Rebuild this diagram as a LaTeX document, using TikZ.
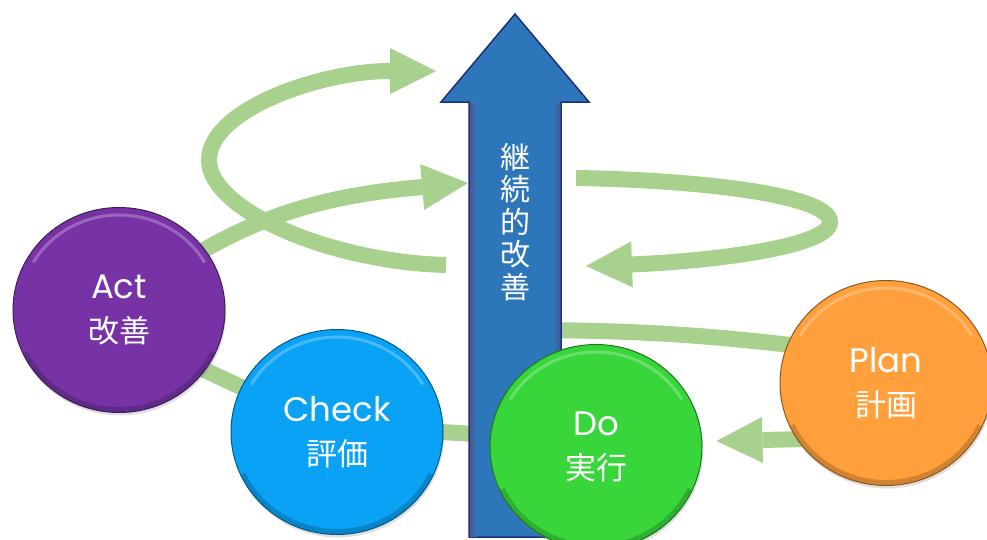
\documentclass[tikz,border=0pt]{standalone}
\usepackage{fontspec}
\setmainfont{Poppins}
\newfontfamily\jp{Noto Sans CJK JP}
\usetikzlibrary{arrows.meta,shapes.geometric,shadows,backgrounds}
\definecolor{band}{HTML}{A9D18E}
\definecolor{actc}{HTML}{7733A6}
\definecolor{checkc}{HTML}{0AA2F5}
\definecolor{doc}{HTML}{38D63A}
\definecolor{planc}{HTML}{FFA03C}
\definecolor{risec}{HTML}{2E76BA}
\definecolor{risedark}{HTML}{1E2F7A}
\newcommand\jtext[1]{{\jp\fontsize{31}{44}\selectfont #1}}

\begin{document}
\begin{tikzpicture}[x=1pt, y=-1pt,
    band/.style={draw=band, line width=16pt},
    flow/.style={band, -{Triangle[length=46pt, width=46pt, line width=0pt]}},
    stage/.style={ellipse, minimum width=212pt, minimum height=205pt, inner sep=0pt,
        fill=#1, draw=#1!55!black, line width=1pt, text=white, align=center,
        font=\fontsize{34}{44}\selectfont,
        drop shadow={opacity=.25, shadow xshift=1pt, shadow yshift=-3pt},
        path picture={
            \draw[white, opacity=.25, line width=3pt] (path picture bounding box.center)
                ++(150:99pt and 95pt) arc[start angle=150, end angle=30, x radius=99pt, y radius=95pt];
            \draw[black, opacity=.18, line width=6pt] (path picture bounding box.center)
                ++(205:104pt and 100pt) arc[start angle=205, end angle=335, x radius=104pt, y radius=100pt];
        }}]
\useasboundingbox (0,0) rectangle (987,539);

\node[stage=actc] (act) at (119,310) {Act\\\jtext{改善}};
\node[stage=checkc] (check) at (337,432) {Check\\\jtext{評価}};
\node[stage=doc] (do) at (596,447) {Do\\\jtext{実行}};
\node[stage=planc] (plan) at (886,383) {Plan\\\jtext{計画}};

\coordinate (leftlow) at (446,265);
\coordinate (lefttop) at (436,71);
\coordinate (rightup) at (576,178);
\coordinate (rightlow) at (586,266);
\coordinate (actin) at (468,183);
\coordinate (behind) at (540,330);

\begin{scope}[on background layer]
\draw[band] ([yshift=-20pt]act.center) -- (check.center);
\draw[band] ([yshift=6pt]check.center) -- ([yshift=6pt]do.center);
\draw[flow] ([xshift=15pt]plan.212) -- ([xshift=14pt,yshift=6pt]do.east);
\draw[band] ([xshift=20pt]plan.160) to[bend right=3] (behind);
\draw[flow] (act.center) to[out=40, in=185] (actin);
\draw[flow] (leftlow) .. controls (330,262) and (209,210) .. (209,160)
    .. controls (209,110) and (320,71) .. (lefttop);
\draw[flow] (rightup) .. controls (700,180) and (830,195) .. (830,222)
    .. controls (830,248) and (700,262) .. (rightlow);
\path[fill=risec, draw=risedark, line width=1.5pt] (469,537) -- (469,102) -- (441,102)
    -- (515,14) -- (589,102) -- (561,102) -- (561,537) -- cycle;
\shade[left color=risedark!80, right color=risec] (470,103) rectangle (477,536);
\shade[left color=risec, right color=risedark!80] (553,103) rectangle (560,536);
\node[text=white, font=\jp\fontsize{30}{32.5}\selectfont, align=center] (goal)
    at (515,222) {継\\続\\的\\改\\善};
\end{scope}
\end{tikzpicture}
\end{document}
